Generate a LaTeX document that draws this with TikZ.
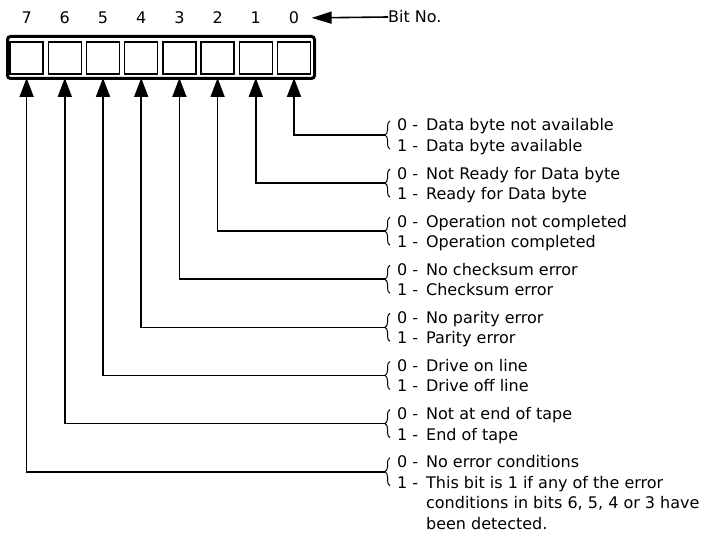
\documentclass[tikz,border=0pt]{standalone}
\usepackage{fontspec}
\setmainfont{DejaVu Sans}
\usetikzlibrary{arrows.meta,decorations.pathreplacing}

\tikzset{
  txt/.style={font=\fontsize{16}{20.5}\selectfont},
  bitcell/.style={draw, line width=1.3pt, minimum width=33pt, minimum height=32pt, inner sep=0pt},
  feed/.style={line width=1.7pt, -{Triangle[length=19pt,width=14pt]}, shorten >=-2pt},
  pair/.style={txt, anchor=base west, inner sep=0pt},
  curly/.style={line width=1pt, decorate, decoration={brace,amplitude=5pt}}
}
\newcommand{\bitvals}[2]{\begin{tabular}[t]{@{}l@{\hspace{5pt}}l@{\hspace{8pt}}l@{}}0&-&#1\\1&-&#2\end{tabular}}

\begin{document}
\begin{tikzpicture}[x=1pt,y=-1pt]
  \useasboundingbox (0,0) rectangle (721,537);
  % register and bit numbers
  \node[draw, line width=3pt, rounded corners=3pt, minimum width=307pt, minimum height=42pt] (reg) at (161,57.5) {};
  \foreach \b in {0,...,7}{
    \node[bitcell] (c\b) at (294-38.2*\b,58) {};
    \node[txt] (n\b) at (294-38.2*\b,18) {\b};
  }
  \node[txt, anchor=west, inner sep=0pt] (bitno) at (388,17) {Bit No.};
  \draw[line width=1.6pt, -{Triangle[length=20pt,width=12pt]}, shorten >=9pt] (bitno.west) -- (n0.east);

  % feed lines with braces
  \foreach \b in {0,...,7}{
    \coordinate (br\b) at (385,135+48.1*\b);
    \draw[curly] ([xshift=5pt,yshift=-14pt]br\b) -- ([xshift=5pt,yshift=14pt]br\b);
    \draw[feed] (br\b) -| (c\b |- reg.south);
  }

  % meanings
  \node[pair] (v0) at (397,131) {\bitvals{Data byte not available}{Data byte available}};
  \node[pair] (v1) at (397,179.1) {\bitvals{Not Ready for Data byte}{Ready for Data byte}};
  \node[pair] (v2) at (397,227.2) {\bitvals{Operation not completed}{Operation completed}};
  \node[pair] (v3) at (397,275.3) {\bitvals{No checksum error}{Checksum error}};
  \node[pair] (v4) at (397,323.4) {\bitvals{No parity error}{Parity error}};
  \node[pair] (v5) at (397,371.5) {\bitvals{Drive on line}{Drive off line}};
  \node[pair] (v6) at (397,419.6) {\bitvals{Not at end of tape}{End of tape}};
  \node[pair] (v7) at (397,467.7) {\begin{tabular}[t]{@{}l@{\hspace{5pt}}l@{\hspace{8pt}}l@{}}
    0&-&No error conditions\\
    1&-&This bit is 1 if any of the error\\
     & &conditions in bits 6, 5, 4 or 3 have\\
     & &been detected.
  \end{tabular}};
\end{tikzpicture}
\end{document}
